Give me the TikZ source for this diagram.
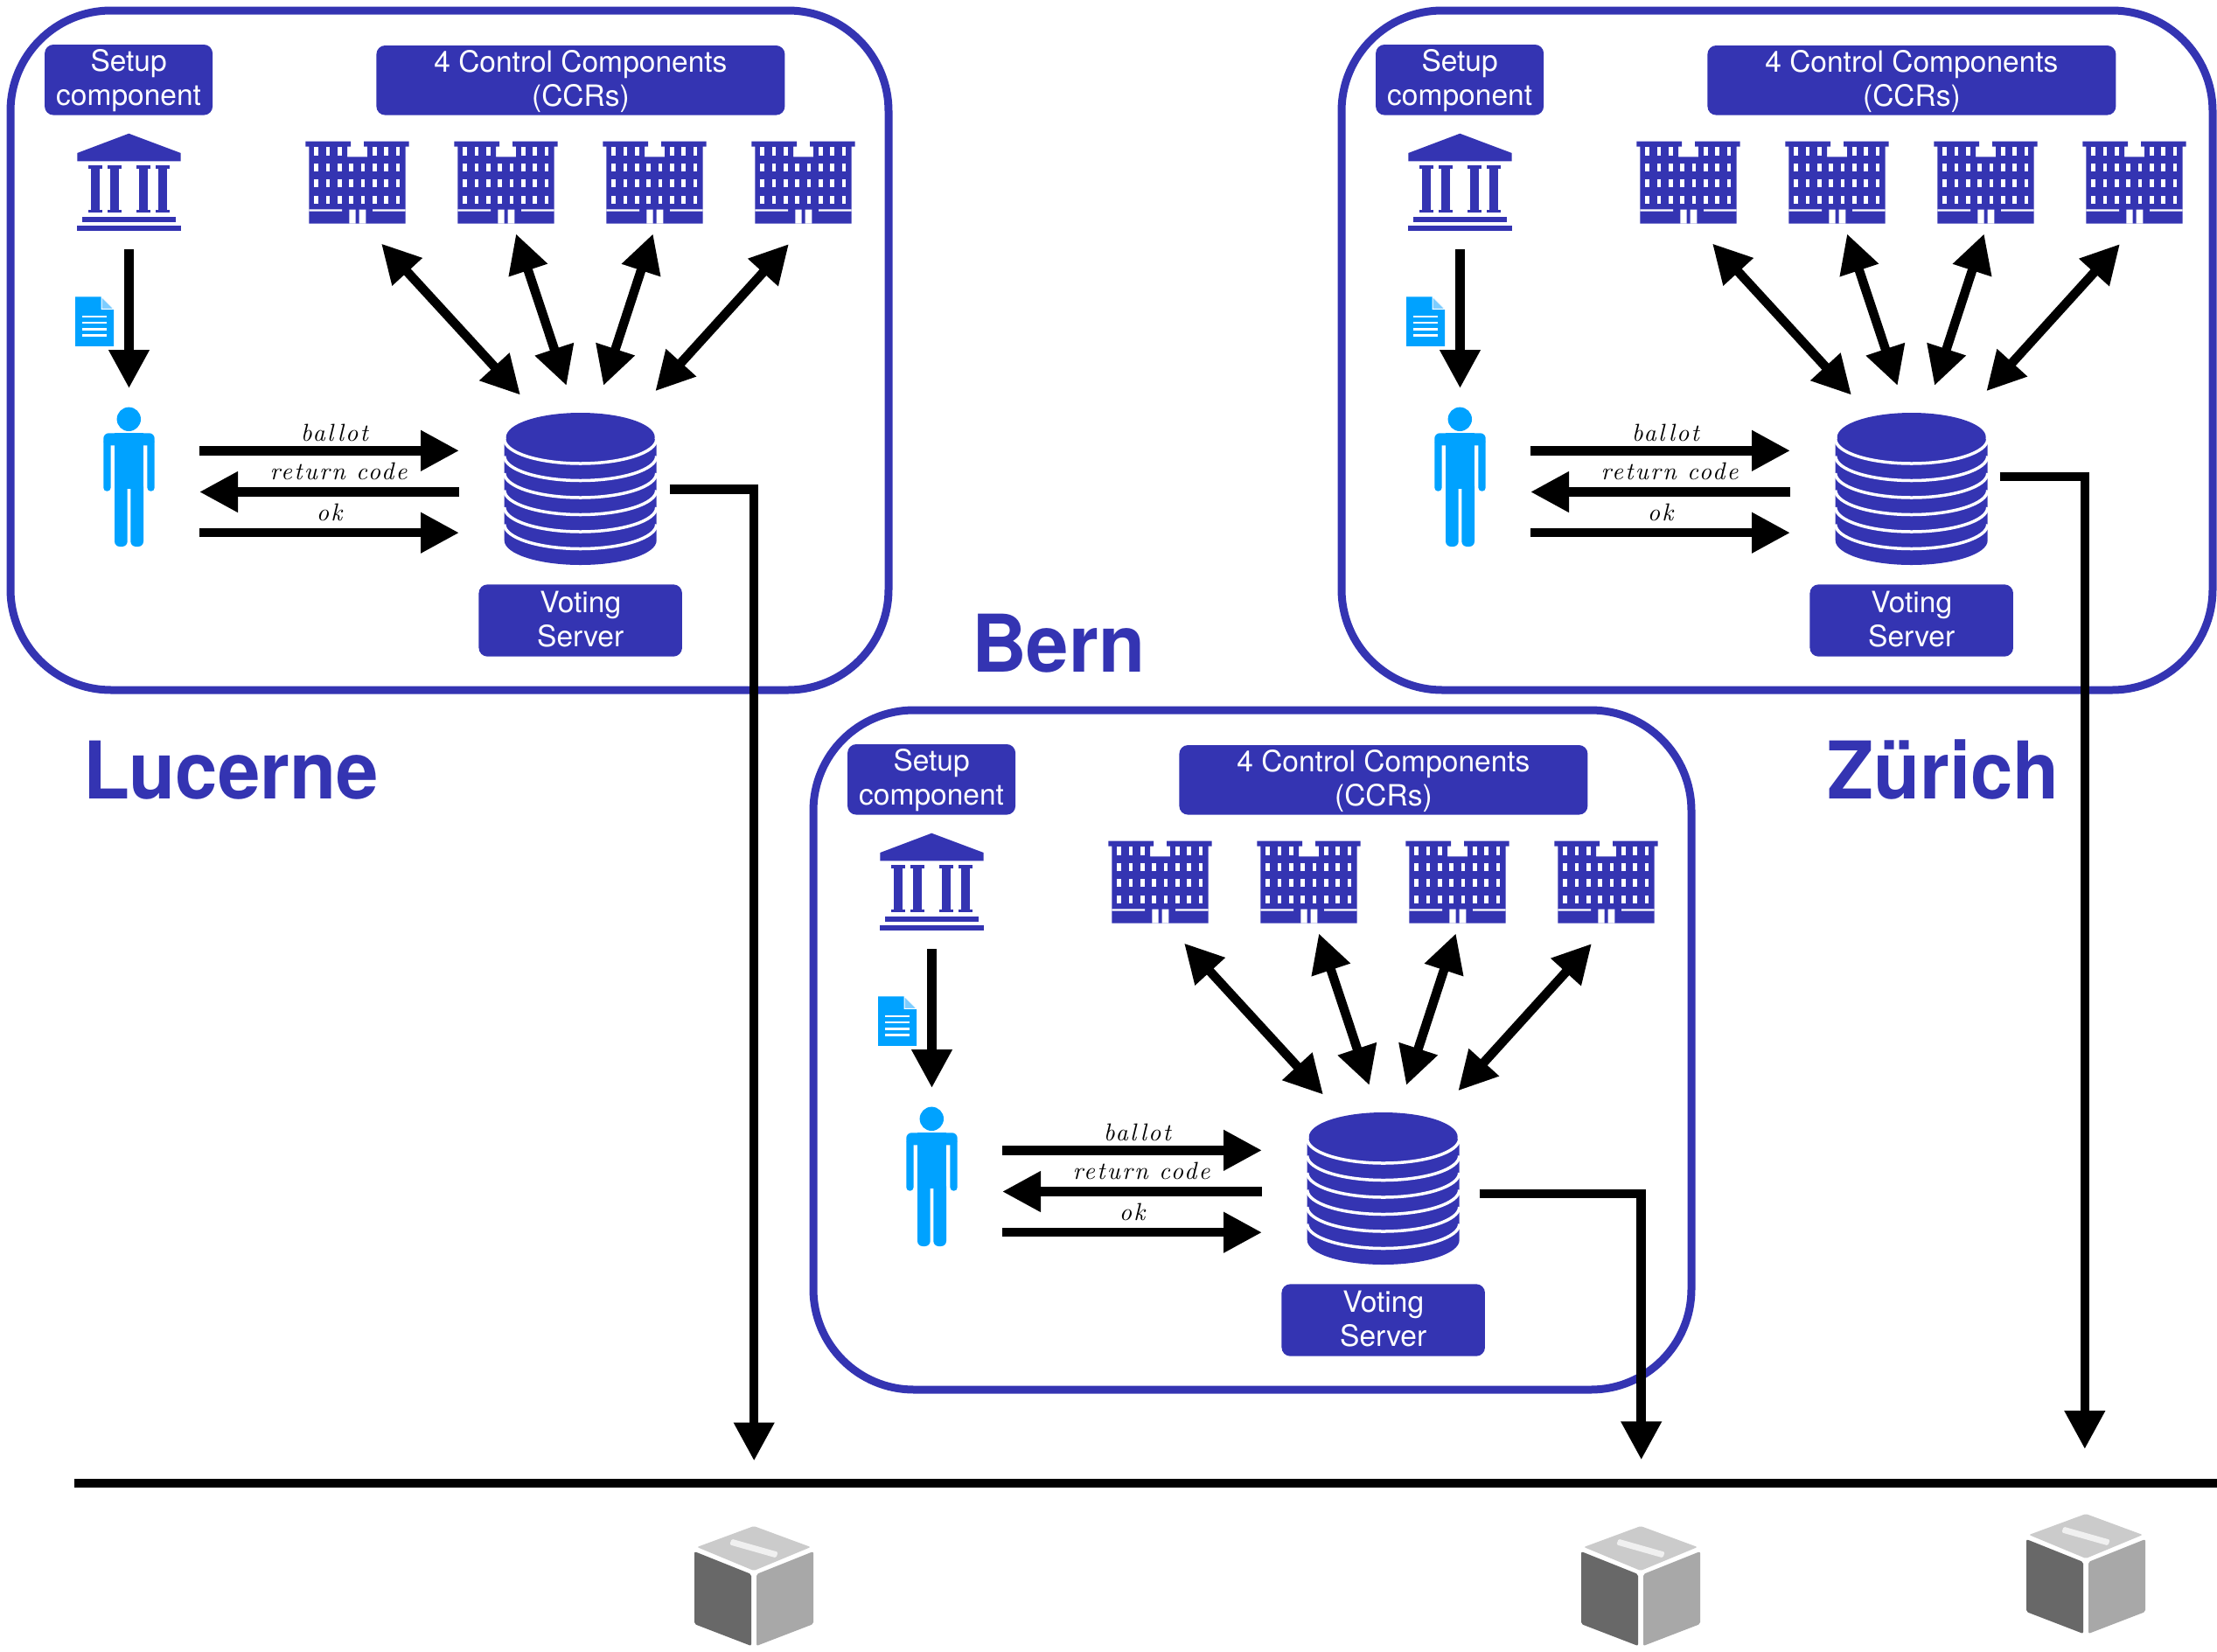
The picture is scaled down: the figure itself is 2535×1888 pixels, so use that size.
\documentclass[tikz,border=0pt]{standalone}
\usepackage{fontspec}
\setmainfont{TeX Gyre Heros}
\newfontfamily\lblfont{lmroman10-italic.otf}[LetterSpace=8]
\usetikzlibrary{arrows.meta}

\definecolor{cblue}{RGB}{52,52,178}
\definecolor{pblue}{RGB}{0,162,255}
\definecolor{foldblue}{RGB}{125,205,255}
\definecolor{boxtop}{RGB}{203,203,203}
\definecolor{boxleft}{RGB}{104,104,104}
\definecolor{boxright}{RGB}{168,168,168}
\definecolor{boxslot}{RGB}{240,240,240}

% fixed line boxes so every two-line tag sits at the same height
\newcommand\tagtop{\rule{0pt}{28pt}}
\newcommand\tagbot{\rule[-8pt]{0pt}{8pt}}

\tikzset{
  tagbox/.style={fill=cblue, rounded corners=10pt, text=white, align=center,
                 inner sep=0pt, font=\fontsize{33.5}{39}\selectfont},
  icon/.style={inner sep=0pt, outer sep=0pt},
  flow/.style={line width=10.5pt, -{Triangle[length=44pt,width=44pt]}},
  dflow/.style={line width=10.5pt,
                {Triangle[length=44pt,width=44pt]}-{Triangle[length=44pt,width=44pt]}},
  lbl/.style={font=\lblfont\fontsize{28}{30}\selectfont, inner sep=0pt},
  frame/.style={draw=cblue, line width=9pt, rounded corners=115pt},
  place/.style={text=cblue, font=\bfseries\fontsize{91}{91}\selectfont,
                inner sep=0pt, anchor=base west, xscale=0.955},
  % government building (setup component)
  bank/.pic={
    \fill[cblue] (-59.2,-33.5) -- (-0.2,-55.8) -- (59.2,-33.5) -- (59.2,-24.2)
                 -- (-59.2,-24.2) -- cycle;
    \foreach \c in {-38.65,-16.35,16.35,38.65}{
      \fill[cblue] (\c-7.85,-19.2) rectangle (\c+7.85,-15.5);
      \fill[cblue] (\c-4.7,-15.6) rectangle (\c+4.7,31.3);
      \fill[cblue] (\c-7.85,31.2) rectangle (\c+7.85,34.8);
    }
    \fill[cblue] (-53.5,39.2) rectangle (53.5,45.8);
    \fill[cblue] (-59.2,49.8) rectangle (59.2,55.8);
  },
  % office block (control component)
  ccbuilding/.pic={
    \begin{scope}[shift={(-59.15,-47)}]
      \fill[cblue] (0,0) rectangle (51.7,6) (66.7,0) rectangle (118.3,6)
                   (4,5) rectangle (47.7,18.5) (70.7,5) rectangle (114.3,18.5)
                   (4,17.7) rectangle (114.3,94);
      \foreach \i in {0,1,2,5,6,7}
        {\fill[white] ({10+13.33*\i},6.7) rectangle ++(4.7,9.3);}
      \foreach \r in {25,43.3,62.3}
        {\foreach \i in {0,...,7}
          {\fill[white] ({10+13.33*\i},\r) rectangle ++(4.7,9.3);}}
      \fill[white] (4,77.7) rectangle (41.7,80) (76.7,77.7) rectangle (114.3,80);
      \fill[white] (50,78) rectangle (57.3,94) (61.3,78) rectangle (69,94);
    \end{scope}
  },
  % voter figure
  voter/.pic={
    \fill[pblue] (-0.2,-66) circle[radius=13.7];
    \fill[pblue, rounded corners=6pt] (-29.2,-50) rectangle (29.2,-36);
    \fill[pblue, rounded corners=4pt] (-29.2,-44) rectangle (-20.9,16.4);
    \fill[pblue, rounded corners=4pt] (20.9,-44) rectangle (29.2,16.4);
    \fill[pblue] (-16.5,-50) rectangle (16.5,14);
    \fill[pblue, rounded corners=6pt] (-16.5,5) rectangle (-1.8,79.7);
    \fill[pblue, rounded corners=6pt] (1.8,5) rectangle (16.5,79.7);
  },
  % voting card sheet
  doc/.pic={
    \begin{scope}[shift={(-22,-28.35)}]
      \fill[pblue] (0,0) -- (30,0) -- (44,14) -- (44,56.7) -- (0,56.7) -- cycle;
      \filldraw[fill=foldblue, draw=white, line width=1pt] (30,0) -- (44,14) -- (30,14) -- cycle;
      \foreach \y in {21.4,28.7,36,43}
        {\fill[white] (8,\y) rectangle (36.3,\y+2.3);}
    \end{scope}
  },
  % stacked-disc server
  database/.pic={
    \fill[cblue] (-87,-56.7) -- (-87,59.3)
       .. controls (-87,74.76) and (-48.05,87.3) .. (0,87.3)
       .. controls (48.05,87.3) and (87,74.76) .. (87,59.3) -- (87,-56.7) -- cycle;
    \fill[cblue] (0,-58.7) ellipse [x radius=85, y radius=28];
    \foreach \k in {0,...,5}{
      \pgfmathsetmacro\yy{-56.7+19.5*\k}
      \draw[white, line width=3.5pt] (-87,\yy)
         .. controls (-87,\yy+15.46) and (-48.05,\yy+28) .. (0,\yy+28)
         .. controls (48.05,\yy+28) and (87,\yy+15.46) .. (87,\yy);
    }
  },
  % ballot box
  ballotbox/.pic={
    \begin{scope}[shift={(0,-68.5)}]
      \fill[boxtop, rounded corners=2pt] (0,0) -- (65,24) -- (0,51) -- (-65,24) -- cycle;
      \fill[boxleft, rounded corners=2pt] (-68,29) -- (-3,55) -- (-3,137) -- (-68,112) -- cycle;
      \fill[boxright, rounded corners=2pt] (3,55) -- (68,29) -- (68,112) -- (3,137) -- cycle;
      \fill[boxslot, rounded corners=1.5pt] (-27.7,21.3) -- (-25.3,14.7) -- (27.7,29.7)
                                             -- (25.3,36.3) -- cycle;
    \end{scope}
  },
}

% one canton: prefix, x offset, y offset, right edge of its frame
\newcommand\cantonpanel[4]{%
\begin{scope}[shift={(#2,#3)}]
  \draw[frame] (12,12) rectangle (#4,789);
  \node[tagbox, minimum width=192pt, minimum height=80.6pt] (#1-setup) at (147.1,91.3)
    {\tagtop Setup\\component\tagbot};
  \node[tagbox, minimum width=467pt, minimum height=79.6pt] (#1-ccr) at (663.9,91.8)
    {\tagtop 4 Control Components\\(CCRs)\tagbot};
  \node[tagbox, minimum width=232.5pt, minimum height=82.4pt] (#1-vs) at (663.7,709.5)
    {\tagtop Voting\\Server\tagbot};
  \node[icon, minimum width=118.4pt, minimum height=111.6pt] (#1-bank) at (147.5,208.5) {};
  \pic at (147.5,208.5) {bank};
  \node[icon, minimum width=44pt, minimum height=56.7pt] (#1-doc) at (108,367.6) {};
  \pic at (108,367.6) {doc};
  \node[icon, minimum width=58.4pt, minimum height=159.4pt] (#1-voter) at (147.5,545.3) {};
  \pic at (147.5,545.3) {voter};
  \node[icon, minimum width=174pt, minimum height=174.5pt] (#1-db) at (663.7,558.7) {};
  \pic at (663.7,558.7) {database};
  \foreach \i/\cx in {1/408.5,2/578.5,3/748.5,4/918.5}{
    \node[icon, minimum width=118.3pt, minimum height=94pt] (#1-cc\i) at (\cx,208.7) {};
    \pic at (\cx,208.7) {ccbuilding};
  }
  % setup data handed to the voter
  \draw[flow, shorten <=21pt, shorten >=21.6pt] (#1-bank) -- (#1-voter);
  % voter <-> voting server exchange
  \coordinate (#1-vA) at ([xshift=51.3pt,yshift=30pt]#1-voter.east);
  \coordinate (#1-vB) at ([xshift=51.3pt,yshift=-17.2pt]#1-voter.east);
  \coordinate (#1-vC) at ([xshift=51.3pt,yshift=-63.9pt]#1-voter.east);
  \coordinate (#1-sw) at ([xshift=-51.7pt]#1-db.west);
  \draw[flow] (#1-vA) -- node[lbl, above=5pt, xshift=6pt] {ballot} (#1-sw |- #1-vA);
  \draw[flow] (#1-sw |- #1-vB) -- node[lbl, above=8.5pt, xshift=10.5pt] {return code} (#1-vB);
  \draw[flow] (#1-vC) -- node[lbl, above=8.5pt] {ok} (#1-sw |- #1-vC);
  % voting server <-> control components
  \draw[dflow] ([xshift=27.5pt,yshift=-22.8pt]#1-cc1.south) -- ([xshift=-68.7pt,yshift=19.8pt]#1-db.north);
  \draw[dflow] ([xshift=11.5pt,yshift=-11.6pt]#1-cc2.south) -- ([xshift=-16pt,yshift=30.5pt]#1-db.north);
  \draw[dflow] ([xshift=-1.8pt,yshift=-11.6pt]#1-cc3.south) -- ([xshift=26.3pt,yshift=30.5pt]#1-db.north);
  \draw[dflow] ([xshift=-16.5pt,yshift=-23.3pt]#1-cc4.south) -- ([xshift=85.6pt,yshift=24.2pt]#1-db.north);
\end{scope}}

\begin{document}
\begin{tikzpicture}[x=1pt,y=-1pt]
  \useasboundingbox (0,0) rectangle (2535,1888);

  \cantonpanel{L}{0}{0}{1016}
  \cantonpanel{B}{918}{800}{1016}
  \cantonpanel{Z}{1522}{0}{1008}

  \node[place] (lucerne) at (95,913) {Lucerne};
  \node[place] (bern) at (1111,768) {Bern};
  \node[place] (zurich) at (2089,913) {Zürich};

  % common line towards the ballot boxes
  \coordinate (bus-w) at (84.8,1696);
  \coordinate (bus-e) at (2535,1696);
  \draw[line width=10.5pt] (bus-w) -- (bus-e);

  \foreach \n/\cx/\cy in {L/862/1813.5, B/1876/1813.5, Z/2385/1799.5}{
    \node[icon, minimum width=136pt, minimum height=137pt] (box-\n) at (\cx,\cy) {};
    \pic at (\cx,\cy) {ballotbox};
  }

  % results leaving each voting server
  \coordinate (L-drop) at (862.2,1670.5);
  \coordinate (B-drop) at (1876.7,1669.3);
  \coordinate (Z-drop) at (2383.8,1657);
  \draw[flow] ([xshift=15pt,yshift=-0.6pt]L-db.east) -| (L-drop);
  \draw[flow] ([xshift=23pt,yshift=-6.3pt]B-db.east) -| (B-drop);
  \draw[flow] ([xshift=14pt,yshift=13.7pt]Z-db.east) -| (Z-drop);
\end{tikzpicture}
\end{document}
